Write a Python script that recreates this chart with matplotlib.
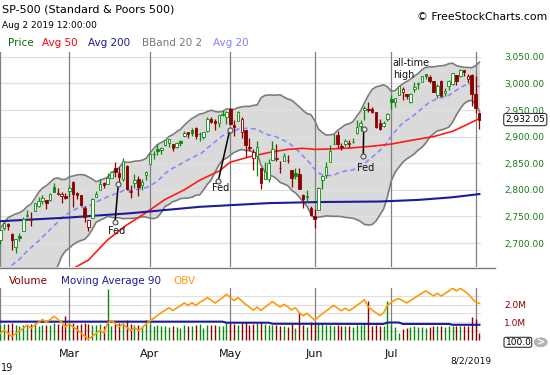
import matplotlib
matplotlib.use("Agg")
import matplotlib.pyplot as plt
from matplotlib.lines import Line2D
from matplotlib.patches import FancyBboxPatch, Circle
import numpy as np
import pandas as pd

# ---------------- data ----------------
dates = [
    "2019-02-04", "2019-02-05", "2019-02-06", "2019-02-07", "2019-02-08", "2019-02-11", "2019-02-12", "2019-02-13",
    "2019-02-14", "2019-02-15", "2019-02-19", "2019-02-20", "2019-02-21", "2019-02-22", "2019-02-25", "2019-02-26",
    "2019-02-27", "2019-02-28",
    "2019-03-01", "2019-03-04", "2019-03-05", "2019-03-06", "2019-03-07", "2019-03-08", "2019-03-11", "2019-03-12",
    "2019-03-13", "2019-03-14", "2019-03-15", "2019-03-18", "2019-03-19", "2019-03-20", "2019-03-21", "2019-03-22",
    "2019-03-25", "2019-03-26", "2019-03-27", "2019-03-28", "2019-03-29",
    "2019-04-01", "2019-04-02", "2019-04-03", "2019-04-04", "2019-04-05", "2019-04-08", "2019-04-09", "2019-04-10",
    "2019-04-11", "2019-04-12", "2019-04-15", "2019-04-16", "2019-04-17", "2019-04-18", "2019-04-22", "2019-04-23",
    "2019-04-24", "2019-04-25", "2019-04-26", "2019-04-29", "2019-04-30",
    "2019-05-01", "2019-05-02", "2019-05-03", "2019-05-06", "2019-05-07", "2019-05-08", "2019-05-09", "2019-05-10",
    "2019-05-13", "2019-05-14", "2019-05-15", "2019-05-16", "2019-05-17", "2019-05-20", "2019-05-21", "2019-05-22",
    "2019-05-23", "2019-05-24", "2019-05-28", "2019-05-29", "2019-05-30", "2019-05-31",
    "2019-06-03", "2019-06-04", "2019-06-05", "2019-06-06", "2019-06-07", "2019-06-10", "2019-06-11", "2019-06-12",
    "2019-06-13", "2019-06-14", "2019-06-17", "2019-06-18", "2019-06-19", "2019-06-20", "2019-06-21", "2019-06-24",
    "2019-06-25", "2019-06-26", "2019-06-27", "2019-06-28",
    "2019-07-01", "2019-07-02", "2019-07-03", "2019-07-05", "2019-07-08", "2019-07-09", "2019-07-10", "2019-07-11",
    "2019-07-12", "2019-07-15", "2019-07-16", "2019-07-17", "2019-07-18", "2019-07-19", "2019-07-22", "2019-07-23",
    "2019-07-24", "2019-07-25", "2019-07-26", "2019-07-29", "2019-07-30", "2019-07-31",
    "2019-08-01", "2019-08-02",
]

opens = [
    2706.49, 2728.34, 2735.05, 2717.53, 2692.36, 2712.40, 2722.61, 2750.30, 2743.50, 2760.24, 2769.28, 2779.05,
    2780.67, 2780.67, 2804.35, 2792.36, 2787.50, 2788.11,
    2798.22, 2814.37, 2794.41, 2790.27, 2766.53, 2730.79, 2747.61, 2787.34, 2799.78, 2811.87, 2810.79, 2822.61,
    2840.76, 2831.34, 2819.72, 2844.52, 2796.01, 2812.66, 2819.72, 2809.40, 2828.27,
    2848.63, 2868.24, 2876.09, 2873.99, 2884.16, 2888.46, 2886.58, 2881.37, 2891.92, 2900.86, 2908.32, 2912.26,
    2916.04, 2904.81, 2898.78, 2909.99, 2934.00, 2928.99, 2925.81, 2940.58, 2937.14,
    2952.33, 2922.16, 2929.21, 2908.89, 2913.03, 2879.61, 2859.84, 2863.10, 2840.19, 2820.12, 2820.38, 2855.80,
    2858.60, 2841.94, 2854.02, 2856.06, 2836.70, 2832.41, 2830.03, 2790.25, 2786.94, 2766.15,
    2751.53, 2762.64, 2818.09, 2828.51, 2852.87, 2885.83, 2903.27, 2882.73, 2886.24, 2886.82, 2889.75, 2906.71,
    2920.55, 2949.60, 2952.71, 2951.42, 2945.78, 2926.07, 2919.66, 2932.94,
    2971.41, 2964.66, 2978.08, 2984.25, 2979.77, 2965.52, 2989.30, 2999.62, 3003.36, 3017.80, 3012.13, 3005.10,
    2978.87, 3004.26, 2981.93, 2994.74, 2998.77, 3016.26, 3013.25, 3024.47, 3007.66, 3016.22,
    2980.32, 2943.90,
]

highs = [
    2724.99, 2738.98, 2738.08, 2719.32, 2708.07, 2718.05, 2748.19, 2761.85, 2757.90, 2775.66, 2787.33, 2789.88,
    2781.58, 2794.20, 2813.49, 2803.12, 2795.76, 2793.73,
    2808.02, 2816.88, 2796.44, 2790.27, 2768.98, 2744.13, 2784.00, 2798.32, 2821.24, 2815.00, 2830.73, 2835.41,
    2852.42, 2843.54, 2860.31, 2846.16, 2809.79, 2829.87, 2825.56, 2819.71, 2836.03,
    2869.40, 2872.90, 2885.25, 2881.28, 2893.24, 2895.95, 2886.88, 2889.71, 2893.42, 2910.54, 2909.60, 2916.06,
    2918.00, 2908.40, 2909.51, 2936.31, 2936.83, 2933.10, 2939.88, 2949.52, 2948.22,
    2954.13, 2931.68, 2947.85, 2937.32, 2913.03, 2897.96, 2875.97, 2891.31, 2840.19, 2852.54, 2858.68, 2892.15,
    2885.48, 2853.86, 2868.88, 2865.47, 2836.70, 2841.36, 2840.51, 2792.03, 2799.00, 2768.98,
    2763.07, 2804.49, 2827.28, 2852.10, 2884.97, 2904.77, 2910.61, 2888.57, 2895.24, 2894.45, 2897.27, 2930.79,
    2931.74, 2958.06, 2964.15, 2954.92, 2946.52, 2932.59, 2929.30, 2943.98,
    2977.93, 2973.21, 2995.84, 2994.03, 2980.76, 2981.90, 3002.98, 3002.33, 3013.92, 3017.80, 3015.02, 3005.26,
    2998.28, 3006.02, 2990.71, 3005.90, 3019.59, 3016.31, 3027.98, 3025.61, 3017.19, 3017.40,
    3013.59, 2945.50,
]

lows = [
    2698.75, 2724.03, 2724.15, 2687.26, 2681.83, 2703.79, 2722.61, 2748.63, 2731.23, 2760.24, 2767.29, 2774.06,
    2764.55, 2779.11, 2794.99, 2789.47, 2775.13, 2782.51,
    2787.38, 2767.66, 2782.97, 2768.69, 2739.09, 2722.27, 2747.61, 2786.73, 2799.78, 2803.46, 2810.79, 2821.99,
    2823.27, 2812.43, 2817.38, 2800.47, 2785.02, 2803.99, 2787.72, 2798.77, 2819.23,
    2848.63, 2858.75, 2865.17, 2867.14, 2882.99, 2880.78, 2873.33, 2879.13, 2881.99, 2898.37, 2896.48, 2900.71,
    2895.45, 2891.90, 2896.35, 2908.53, 2926.31, 2912.84, 2917.56, 2939.35, 2924.11,
    2923.36, 2900.50, 2929.21, 2898.21, 2862.60, 2873.28, 2836.40, 2825.39, 2801.43, 2820.12, 2815.08, 2855.80,
    2854.23, 2831.29, 2854.02, 2851.11, 2805.49, 2820.19, 2801.58, 2766.06, 2776.74, 2750.52,
    2728.81, 2762.64, 2800.92, 2822.45, 2852.87, 2885.51, 2878.53, 2874.68, 2881.99, 2879.62, 2887.30, 2905.44,
    2911.43, 2931.50, 2946.87, 2944.05, 2916.01, 2912.99, 2918.57, 2929.05,
    2952.22, 2955.92, 2977.96, 2967.97, 2970.09, 2963.44, 2984.62, 2988.80, 3001.87, 3008.77, 3001.15, 2984.25,
    2973.09, 2975.86, 2976.65, 2988.56, 2996.82, 2997.24, 3012.59, 3014.30, 3000.94, 2958.08,
    2945.23, 2914.11,
]

closes = [
    2724.87, 2737.70, 2731.61, 2706.05, 2707.88, 2709.80, 2744.73, 2753.03, 2745.73, 2775.60, 2779.76, 2784.70,
    2774.88, 2792.67, 2796.11, 2793.90, 2792.38, 2784.49,
    2803.69, 2792.81, 2789.65, 2771.45, 2748.93, 2743.07, 2783.30, 2791.52, 2810.92, 2808.48, 2822.48, 2832.94,
    2832.57, 2824.23, 2854.88, 2800.71, 2798.36, 2818.46, 2805.37, 2815.44, 2834.40,
    2867.19, 2867.24, 2873.40, 2879.39, 2892.74, 2895.77, 2878.20, 2888.21, 2888.32, 2907.41, 2905.58, 2907.06,
    2900.45, 2905.03, 2907.97, 2933.68, 2927.25, 2926.17, 2939.88, 2943.03, 2945.83,
    2923.73, 2917.52, 2945.64, 2932.47, 2884.05, 2879.42, 2870.72, 2881.40, 2811.87, 2834.41, 2850.96, 2876.32,
    2859.53, 2840.23, 2864.36, 2856.27, 2822.24, 2826.06, 2802.39, 2783.02, 2788.86, 2752.06,
    2744.45, 2803.27, 2826.15, 2843.49, 2873.34, 2886.73, 2885.72, 2879.84, 2891.64, 2886.98, 2889.67, 2917.75,
    2926.46, 2954.18, 2950.46, 2945.35, 2917.38, 2913.78, 2924.92, 2941.76,
    2964.33, 2973.01, 2995.82, 2990.41, 2975.95, 2979.63, 2993.07, 2999.91, 3013.77, 3014.30, 3004.04, 2984.42,
    2995.11, 2976.61, 2985.03, 3005.47, 3019.56, 3003.67, 3025.86, 3020.97, 3013.18, 2980.38,
    2953.56, 2932.05,
]

# volume in millions (as shown on the chart's scale)
volumes = [
    0.85, 0.90, 0.88, 0.95, 0.85, 0.78, 0.85, 0.85, 0.90, 0.92, 0.80, 0.85, 0.85, 0.82, 0.95, 0.88, 0.85, 1.35,
    0.90, 0.95, 0.85, 0.88, 0.95, 0.88, 0.85, 0.85, 0.88, 0.80, 2.90, 0.80, 0.90, 0.95, 0.90, 1.12, 0.90, 0.85,
    0.85, 0.80, 1.10,
    0.90, 0.80, 0.85, 0.78, 0.75, 0.70, 0.78, 0.72, 0.68, 0.82, 0.75, 0.80, 0.82, 0.90, 0.65, 0.85, 0.82, 0.85,
    0.80, 0.80, 1.00,
    0.95, 0.90, 0.85, 0.95, 1.00, 0.85, 0.90, 0.95, 1.00, 0.88, 0.85, 0.85, 0.82, 0.75, 0.75, 0.72, 0.90, 0.65,
    1.50, 0.85, 0.70, 1.00,
    1.00, 0.95, 0.88, 0.85, 0.85, 0.80, 0.82, 0.75, 0.75, 0.75, 0.70, 0.85, 0.82, 0.90, 2.20, 0.80, 0.85, 0.80,
    0.78, 2.20,
    0.90, 0.70, 0.35, 0.60, 0.68, 0.72, 0.75, 0.70, 0.70, 0.68, 0.72, 0.75, 0.78, 0.80, 0.72, 0.75, 0.80, 0.80,
    0.78, 0.75, 0.80, 1.30,
    1.15, 0.40,
]

# closes of Jan 7 .. Feb 1 2019 (needed to start the 20-day Bollinger band)
warmup_closes = [
    2549.69, 2574.41, 2584.96, 2596.64, 2596.26, 2582.61, 2610.30, 2616.10, 2635.96, 2670.71,
    2632.90, 2638.70, 2642.33, 2664.76, 2643.85, 2640.00, 2681.05, 2704.10, 2706.53,
]

ma50_dates = ["2019-02-04", "2019-02-19", "2019-03-01", "2019-03-08", "2019-03-15", "2019-03-22", "2019-03-29",
              "2019-04-05", "2019-04-12", "2019-04-18", "2019-04-26", "2019-05-01", "2019-05-08", "2019-05-15",
              "2019-05-22", "2019-05-29", "2019-06-03", "2019-06-10", "2019-06-17", "2019-06-24", "2019-07-01",
              "2019-07-10", "2019-07-17", "2019-07-24", "2019-07-29", "2019-08-02"]
ma50_values = [2598, 2625, 2648, 2668, 2706, 2734, 2757, 2782, 2800, 2818, 2835, 2852, 2862, 2870,
               2876, 2878, 2876, 2877, 2879, 2882, 2886, 2894, 2900, 2910, 2920, 2934]

ma200_dates = ["2019-02-04", "2019-03-01", "2019-03-25", "2019-04-18", "2019-05-15", "2019-06-04",
               "2019-06-26", "2019-07-11", "2019-07-24", "2019-08-02"]
ma200_values = [2741, 2748, 2756, 2768, 2775, 2777, 2778, 2781, 2786, 2792]

volma_dates = ["2019-02-04", "2019-04-29", "2019-04-30", "2019-05-15", "2019-05-16", "2019-06-27",
               "2019-06-28", "2019-07-03", "2019-07-05", "2019-07-23", "2019-07-24", "2019-08-02"]
volma_values = [1.02, 1.02, 0.96, 0.96, 0.90, 0.89, 0.97, 0.97, 0.89, 0.89, 0.84, 0.84]

price_ticks = [2700, 2750, 2800, 2850, 2900, 2950, 3000, 3050]
volume_ticks = [1.0, 2.0]
month_labels = ["Mar", "Apr", "May", "Jun", "Jul"]

# ---------------- helpers ----------------
W, H = 550, 375
plt.rcParams["font.family"] = ["DejaVu Sans"]
fig = plt.figure(figsize=(W / 100, H / 100), dpi=100)
fig.patch.set_facecolor("white")


def fx(px):
    return px / W


def fy(py):
    return 1 - py / H


GREEN = "#0a8a0a"
RED = "#8b0000"
NAVY = "#1c1c96"
GRID = "#e0e0e0"
MONTHLINE = "#808080"

n = len(dates)
pos = np.arange(n)
o = np.array(opens)
hi = np.array(highs)
lo = np.array(lows)
c = np.array(closes)
v = np.array(volumes)
prev = np.concatenate([[warmup_closes[-1]], c[:-1]])
up = c >= prev

allc = pd.Series(list(warmup_closes) + list(closes))
nw = len(warmup_closes)
mid = allc.rolling(20).mean().to_numpy()[nw:]
sd = allc.rolling(20).std(ddof=0).to_numpy()[nw:]
bb_up = mid + 2 * sd
bb_lo = mid - 2 * sd

date_pos = {d: i for i, d in enumerate(dates)}
month_pos = [i for i in range(n) if i == 0 or dates[i][:7] != dates[i - 1][:7]]

XL = (-0.08, 125.41)

# ---------------- price panel ----------------
axp = fig.add_axes([0, fy(267), fx(481), fy(51.5) - fy(267)])
axp.set_xlim(XL)
axp.set_ylim(2654.9, 3060.0)
for s in axp.spines.values():
    s.set_visible(False)
axp.set_xticks([])

axp.fill_between(pos, bb_lo, bb_up, color="#dadada", lw=0, zorder=1)
axp.hlines(price_ticks, XL[0], XL[1], colors=GRID, lw=0.9, zorder=1.5)
for mp in month_pos:
    axp.axvline(mp, color=MONTHLINE, lw=0.9, zorder=2)
axp.plot(pos, bb_up, color="#7c7c7c", lw=1.2, zorder=2.2)
axp.plot(pos, bb_lo, color="#7c7c7c", lw=1.2, zorder=2.2)
axp.plot(pos, mid, color="#8a8aff", lw=1.2, dashes=(3, 2), zorder=3)
axp.plot([date_pos[d] for d in ma50_dates], ma50_values, color="#ff1a1a", lw=1.2, zorder=3)
axp.plot([date_pos[d] for d in ma200_dates], ma200_values, color=NAVY, lw=1.5, zorder=3)

cols = [GREEN if u else RED for u in up]
faces = ["white" if cc > oo else col for cc, oo, col in zip(c, o, cols)]
body_lo = np.minimum(o, c)
body_h = np.maximum(np.abs(c - o), 0.8)
axp.vlines(pos, lo, hi, colors=cols, lw=0.9, zorder=4)
axp.bar(pos, body_h, bottom=body_lo, width=0.66, color=faces, edgecolor=cols, linewidth=0.6, zorder=5)

# Fed annotations
fed_marks = [((30.78, 2810.3), (29.92, 2738.9), (30.45, 2723.0)),
             ((59.85, 2911.8), (56.87, 2817.1), (57.5, 2804.0)),
             ((94.8, 2914.3), (94.7, 2863.5), (95.4, 2841.5))]
for top, bot, lab in fed_marks:
    axp.plot([top[0], bot[0]], [top[1], bot[1]], color="black", lw=1.1, zorder=6)
    axp.plot([top[0], bot[0]], [top[1], bot[1]], ls="none", marker="o", ms=3.6,
             mfc="#e6e6e6", mec="#505050", mew=0.8, zorder=7)
    axp.text(lab[0], lab[1], "Fed", fontsize=7, ha="center", va="center", color="#111111", zorder=7)
axp.text(102.37, 3039, "all-time", fontsize=7, ha="left", va="center", color="#111111", zorder=7)
axp.text(102.37, 3016, "high", fontsize=7, ha="left", va="center", color="#111111", zorder=7)

# right price axis labels
axp.yaxis.tick_right()
axp.set_yticks(price_ticks, labels=[f"{t:,.2f}" for t in price_ticks])
axp.tick_params(axis="y", length=0, pad=45.4, labelsize=6.5, labelcolor="#177a17")
for lbl in axp.get_yticklabels():
    lbl.set_horizontalalignment("right")
axp.text(1.1335, c[-1], f"{c[-1]:,.2f}", transform=axp.get_yaxis_transform(), fontsize=6.5,
         ha="right", va="center", color="black", zorder=10, clip_on=False,
         bbox=dict(boxstyle="round,pad=0.18,rounding_size=0.25", fc="white", ec="#333333", lw=0.8))

# ---------------- volume panel ----------------
axv = fig.add_axes([0, fy(341), fx(481), fy(288) - fy(341)])
axo = axv.twinx()  # OBV on its own (unlabelled) scale

axv.set_xlim(XL)
axv.set_ylim(-(341 - 339.5) / 17.5, (339.5 - 288) / 17.5)
for s in axv.spines.values():
    s.set_visible(False)
axv.hlines([0.5, 1.0, 1.5, 2.0, 2.5], XL[0], XL[1], colors=GRID, lw=0.9, zorder=1)
for mp in month_pos:
    axv.axvline(mp, color=MONTHLINE, lw=0.9, zorder=2)
axv.vlines(pos, 0, v, colors=cols, lw=1.0, zorder=3)
axv.plot([date_pos[d] for d in volma_dates], volma_values, color=NAVY, lw=1.5, zorder=4)

axv.set_xticks([month_pos[k] for k in range(1, 6)], labels=month_labels)
axv.tick_params(axis="x", length=0, pad=6, labelsize=8, labelcolor="#111111")

obv = np.cumsum(np.where(c > prev, v, np.where(c < prev, -v, 0.0)))
scale = 3.4
axo.set_xlim(XL)
axo.set_ylim(obv[0] - (341 - 333.3) / scale, obv[0] + (333.3 - 288) / scale)
axo.plot(pos, obv, color="#ff9a0a", lw=1.2, zorder=5)
axo.set_yticks([])
for s in axo.spines.values():
    s.set_visible(False)

# volume labels on the right (set after twinx, which moves ticks to the left)
axv.yaxis.tick_right()
axv.set_yticks(volume_ticks, labels=[f"{t:.1f}M" for t in volume_ticks])
axv.tick_params(axis="y", which="both", left=False, labelleft=False, right=False, labelright=True,
                length=0, pad=16.6, labelsize=6.5, labelcolor=RED)

# separator line
fig.add_artist(Line2D([0, fx(495)], [fy(268), fy(268)], color="#7a7a7a", lw=1.0))

# ---------------- texts ----------------
fig.text(fx(2), fy(10), "SP-500 (Standard & Poors 500)", fontsize=8, ha="left", va="center", color="black")
fig.text(fx(2), fy(25.5), "Aug 2 2019 12:00:00", fontsize=6.5, ha="left", va="center", color="black")
fig.text(fx(547.7), fy(16.5), "\u00a9 FreeStockCharts.com", fontsize=7.8, ha="right", va="center", color="black")

legend_items = [("Price", "#0b6b0b", 8.3), ("Avg 50", "#ff0000", 42.3), ("Avg 200", "#1a1a99", 88.3),
                ("BBand 20 2", "#777777", 141.7), ("Avg 20", "#8080ff", 213.3)]
for txt, col, x in legend_items:
    fig.text(fx(x), fy(43.3), txt, fontsize=7.5, ha="left", va="center", color=col)

vol_legend = [("Volume", RED, 8.7), ("Moving Average 90", NAVY, 60.8), ("OBV", "#ff9a0a", 173.6)]
for txt, col, x in vol_legend:
    fig.text(fx(x), fy(281.5), txt, fontsize=7.5, ha="left", va="center", color=col)

fig.text(fx(470.5), fy(361.3), "8/2/2019", fontsize=6.6, ha="center", va="center", color="#111111")
fig.text(fx(1), fy(368), "19", fontsize=7, ha="left", va="center", color="#111111")

# small "100.0" zoom widget
fig.add_artist(FancyBboxPatch((fx(504), fy(347.3)), fx(27.7), fy(337.3) - fy(347.3),
                              boxstyle="round,pad=0,rounding_size=0.004", fc="white", ec="#333333", lw=0.8))
fig.text(fx(505.5), fy(342.3), "100.0", fontsize=6.5, ha="left", va="center", color="black")
fig.add_artist(Circle((fx(540.7), fy(342.3)), fx(6.5), transform=fig.transFigure, fc="#b5b5b5", ec="#a0a0a0", lw=0.5))
fig.text(fx(540.9), fy(342.0), ">", fontsize=7, ha="center", va="center", color="white", fontweight="bold")

fig.savefig("out.png", dpi=100, facecolor="white")
